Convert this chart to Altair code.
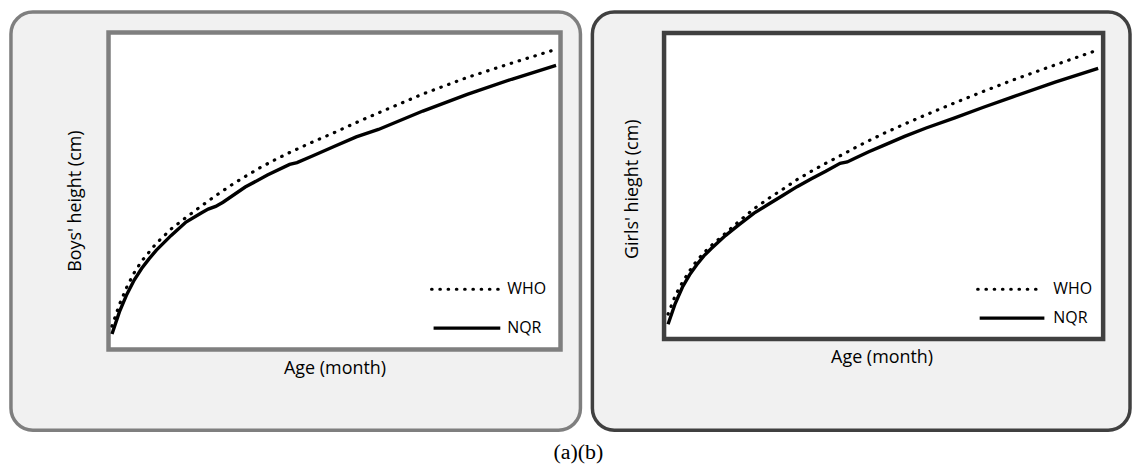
import altair as alt
import pandas as pd

# ---- data (age in months, height in cm) ----
boys_who_months = [0, 1, 2, 3, 4, 6, 8, 10, 12, 14, 16, 18, 20, 22, 24, 27, 30, 33, 36, 42, 48, 54, 60]
boys_who_cm = [49.9, 54.6, 58.4, 61.5, 64.0, 67.9, 71.0, 73.5, 75.9, 78.2, 80.4, 82.4, 84.3, 86.0, 87.6,
               89.8, 91.9, 94.1, 96.2, 100.3, 103.9, 107.0, 110.0]

boys_nqr_months = [0, 1, 2, 3, 4, 5, 6, 8, 10, 12, 13, 14, 15, 18, 21, 24, 25, 27, 30, 33, 36, 42, 48, 54, 60]
boys_nqr_cm = [48.2, 53.0, 56.8, 59.9, 62.4, 64.5, 66.4, 69.6, 72.5, 74.4, 75.3, 75.9, 76.8, 80.1, 82.7,
               85.0, 85.4, 86.8, 88.9, 91.0, 92.6, 96.6, 100.2, 103.5, 106.5]

girls_who_months = [0, 1, 2, 3, 4, 5, 6, 8, 10, 12, 14, 16, 18, 20, 22, 24, 27, 30, 33, 36, 40, 44, 48, 54, 60]
girls_who_cm = [49.1, 53.3, 56.3, 58.9, 61.2, 63.0, 64.6, 67.4, 70.3, 73.0, 75.3, 77.4, 79.6, 81.5, 83.3,
                85.0, 87.6, 90.0, 92.2, 94.3, 97.0, 99.6, 102.1, 105.6, 109.0]

girls_nqr_months = [0, 1, 2, 3, 4, 5, 6, 8, 10, 12, 14, 16, 18, 20, 22, 24, 25, 26, 28, 30, 33, 36, 40, 44, 48, 54, 60]
girls_nqr_cm = [46.8, 51.5, 55.2, 58.0, 60.3, 62.3, 63.9, 66.9, 69.5, 72.0, 74.0, 76.0, 78.0, 79.8, 81.5,
                83.3, 83.6, 84.4, 85.9, 87.3, 89.4, 91.3, 93.6, 96.0, 98.3, 101.7, 104.8]

series_names = ["WHO", "NQR"]
x_title = "Age (month)"
y_titles = ["Boys' height (cm)", "Girls' hieght (cm)"]
caption = "(a)(b)"

FONT = "Open Sans"
one = alt.Data(values=[{}])


def make_df(who_m, who_v, nqr_m, nqr_v):
    a = pd.DataFrame({"month": who_m, "cm": who_v, "series": series_names[0]})
    b = pd.DataFrame({"month": nqr_m, "cm": nqr_v, "series": series_names[1]})
    return pd.concat([a, b], ignore_index=True)


def panel(df, W, H, box_color, inner, xr, ydom, yr, ytitle, ytitle_xy, xtitle_xy, leg):
    xs = alt.Scale(domain=[0, 60], range=xr, nice=False, zero=False)
    ys = alt.Scale(domain=ydom, range=yr, nice=False, zero=False)
    frame = alt.Chart(one).mark_rect(fill="white", stroke=box_color, strokeWidth=4.5).encode(
        x=alt.value(inner[0]), x2=alt.value(inner[1]), y=alt.value(inner[2]), y2=alt.value(inner[3]))
    who = alt.Chart(df).transform_filter(alt.datum.series == series_names[0]).mark_line(
        color="black", strokeWidth=3.2, strokeDash=[0.5, 7.8], strokeCap="round").encode(
        x=alt.X("month:Q", scale=xs, axis=None), y=alt.Y("cm:Q", scale=ys, axis=None))
    nqr = alt.Chart(df).transform_filter(alt.datum.series == series_names[1]).mark_line(
        color="black", strokeWidth=3.4).encode(
        x=alt.X("month:Q", scale=xs, axis=None), y=alt.Y("cm:Q", scale=ys, axis=None))
    (lx0, lx1, ly_who, ly_nqr, tx) = leg
    leg_who = alt.Chart(one).mark_rule(color="black", strokeWidth=3.2, strokeDash=[0.5, 7.8],
                                       strokeCap="round").encode(
        x=alt.value(lx0), x2=alt.value(lx1), y=alt.value(ly_who))
    leg_nqr = alt.Chart(one).mark_rule(color="black", strokeWidth=3.4).encode(
        x=alt.value(lx0 + 2), x2=alt.value(lx1 + 2), y=alt.value(ly_nqr))
    leg_t1 = alt.Chart(one).mark_text(align="left", baseline="middle", font=FONT, fontSize=16,
                                      color="black").encode(
        x=alt.value(tx), y=alt.value(ly_who), text=alt.value(series_names[0]))
    leg_t2 = alt.Chart(one).mark_text(align="left", baseline="middle", font=FONT, fontSize=16,
                                      color="black").encode(
        x=alt.value(tx), y=alt.value(ly_nqr), text=alt.value(series_names[1]))
    yt = alt.Chart(one).mark_text(angle=270, align="center", baseline="middle", font=FONT,
                                  fontSize=18, color="black").encode(
        x=alt.value(ytitle_xy[0]), y=alt.value(ytitle_xy[1]), text=alt.value(ytitle))
    xt = alt.Chart(one).mark_text(align="center", baseline="middle", font=FONT,
                                  fontSize=18, color="black").encode(
        x=alt.value(xtitle_xy[0]), y=alt.value(xtitle_xy[1]), text=alt.value(x_title))
    return alt.layer(frame, who, nqr, leg_who, leg_nqr, leg_t1, leg_t2, yt, xt).properties(
        width=W, height=H,
        view=alt.ViewBackground(fill="#f1f1f1", stroke=box_color, strokeWidth=3.5, cornerRadius=22))


left = panel(make_df(boys_who_months, boys_who_cm, boys_nqr_months, boys_nqr_cm),
             572, 420, "#7f7f7f", (98, 552, 20.5, 339), [101.5, 547.5], [45, 113.7], [338.2, 20.4],
             y_titles[0], (65.5, 190), (325.5, 358.5), (422.5, 489.5, 278.5, 317.5, 498.5))
right = panel(make_df(girls_who_months, girls_who_cm, girls_nqr_months, girls_nqr_cm),
              540, 420, "#404040", (72, 513, 21, 328.5), [76, 508], [43.5, 112.9], [328.3, 20.8],
              y_titles[1], (41, 178), (291, 347.5), (387, 452, 278.5, 307.5, 463))

chart = alt.hconcat(left, right, spacing=8).properties(
    padding={"left": 9, "top": 9, "right": 0, "bottom": 5},
    title=alt.TitleParams(caption, orient="bottom", anchor="middle", font="Liberation Serif",
                          fontSize=22, fontWeight="normal", color="black", offset=10, dx=8),
).configure(background="white")

chart.save("out.html", embed_options={"renderer": "svg", "actions": False})
